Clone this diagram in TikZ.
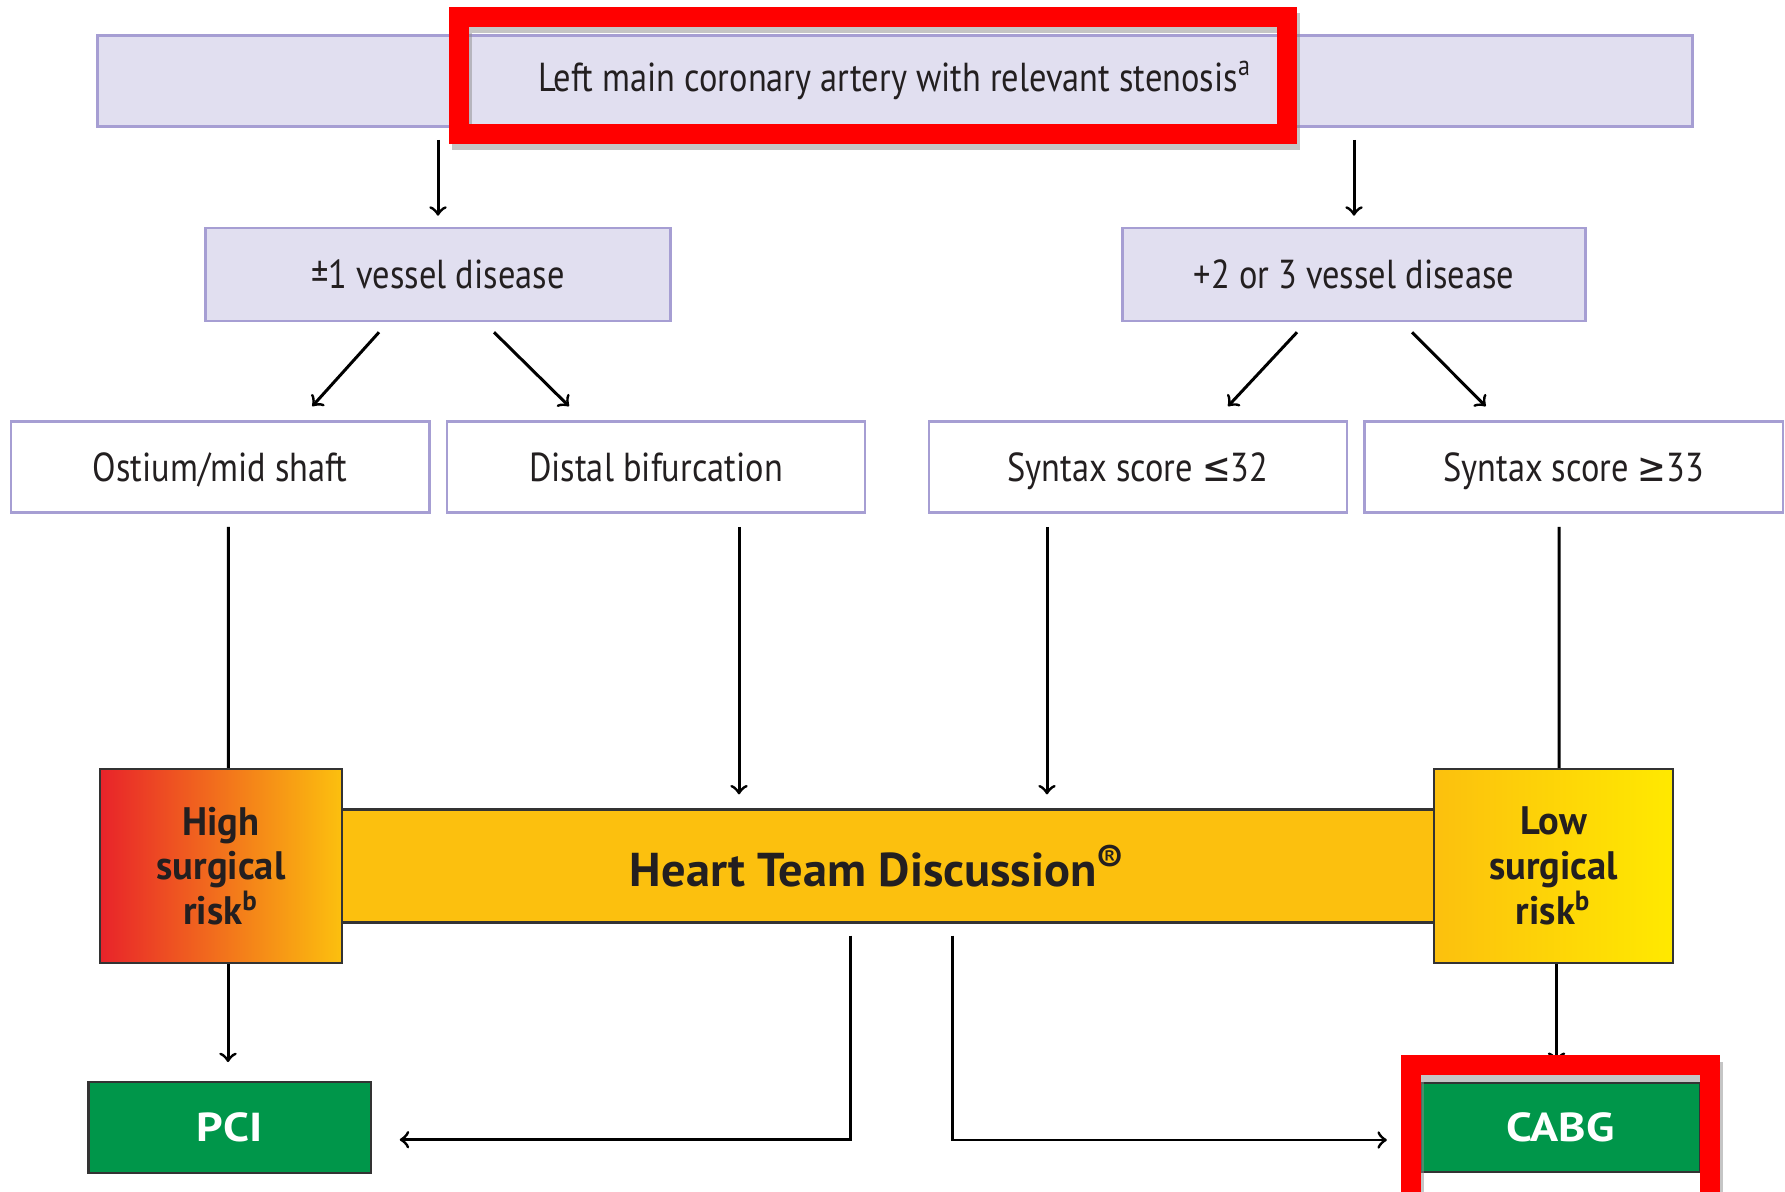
\documentclass[tikz,border=0pt]{standalone}
\usepackage{fontspec}
\setmainfont{PT Sans}[FakeStretch=0.85]
\newfontfamily\symfont{DejaVu Sans}[FakeStretch=0.85]
\newfontfamily\teamfont{PT Sans}[FakeStretch=1.02]
\newfontfamily\riskfont{PT Sans}[FakeStretch=0.97]
\newfontfamily\treatfont{PT Sans}[FakeStretch=1.15]
\usetikzlibrary{positioning, arrows}
\usetikzlibrary{calc}

\definecolor{boxlilac}{HTML}{E1DFF0}
\definecolor{lilacline}{HTML}{A69ED3}
\definecolor{teamamber}{HTML}{FCC00E}
\definecolor{riskred}{HTML}{E8232A}
\definecolor{riskorange}{HTML}{F28A25}
\definecolor{riskyellow}{HTML}{FFE900}
\definecolor{treatgreen}{HTML}{00964A}
\definecolor{inkdark}{HTML}{231F20}
\definecolor{markred}{HTML}{FF0000}

\begin{document}
\begin{tikzpicture}[x=0.01cm, y=-0.01cm, >=to, line width=0.85pt,
    lilac/.style={draw=lilacline, fill=boxlilac, line width=0.7pt, inner sep=0pt, text height=8pt, text depth=0pt, text=inkdark, font=\fontsize{11.5}{13}\selectfont},
    plain/.style={lilac, fill=white, minimum width=4.18cm, minimum height=0.91cm},
    risk/.style={draw=black!80, line width=0.6pt, minimum width=2.42cm, minimum height=1.94cm, inner sep=0pt, align=center, text=inkdark, font=\riskfont\bfseries\fontsize{11.3}{12.7}\selectfont},
    treat/.style={draw=black!80, fill=treatgreen, line width=0.6pt, minimum height=0.91cm, inner sep=0pt, text height=8pt, text depth=0pt, text=white, font=\treatfont\bfseries\fontsize{11.5}{13}\selectfont},
    redmark/.style={draw=markred, line width=0.2cm},
    redshadow/.style={draw=black!45, line width=0.2cm, opacity=0.5}]
    \useasboundingbox (0,0) rectangle (1785,1192);

    % Define boxes
    \node[lilac, text depth=2.2pt, minimum width=15.94cm, minimum height=0.91cm] (lmca) at (895,81) {Left main coronary artery with relevant stenosis\textsuperscript{a}};
    \node[lilac, minimum width=4.65cm, minimum height=0.93cm] (one) at (438,274.5) {±1 vessel disease};
    \node[lilac, minimum width=4.63cm, minimum height=0.93cm] (multi) at (1354,274.5) {+2 or 3 vessel disease};
    \node[plain] (ostium) at (220.3,467) {Ostium/mid shaft};
    \node[plain, right=0.15cm of ostium] (distal) {Distal bifurcation};
    \node[plain] (lowsyn) at (1138,467) {Syntax score {\symfont ≤}32};
    \node[plain, right=0.15cm of lowsyn] (highsyn) {Syntax score {\symfont ≥}33};

    \node[draw=black!80, fill=teamamber, line width=0.6pt, minimum width=10.92cm, minimum height=1.13cm, text=inkdark, font=\teamfont\bfseries\fontsize{13.5}{15}\selectfont] (team) at (888,866) {Heart Team Discussion\raisebox{0.55ex}{\fontsize{11}{11}\selectfont ®}\hspace*{0.22cm}};
    \node[risk, left color=riskred, middle color=riskorange, right color=teamamber] (highrisk) at (221,866) {High\\surgical\\risk\textsuperscript{b}};
    \node[risk, minimum width=2.39cm, left color=teamamber, right color=riskyellow] (lowrisk) at (1553.5,866) {Low\\surgical\\risk\textsuperscript{b}};

    \node[treat, minimum width=2.82cm] (pci) at (229.6,1127.7) {PCI};
    \node[treat, minimum width=2.79cm, minimum height=0.89cm] (cabg) at (1560.5,1127.5) {CABG};

    % Define arrows
    \path[->]
    ([yshift=-0.12cm]lmca.south -| one) edge ([yshift=0.11cm]one.north)
    ([yshift=-0.12cm]lmca.south -| multi) edge ([yshift=0.11cm]multi.north)
    ([shift={(-59,10)}]one.south) edge ([shift={(92,-14)}]ostium.north)
    ([shift={(56,10)}]one.south) edge ([shift={(-87,-14)}]distal.north)
    ([shift={(-57,10)}]multi.south) edge ([shift={(90,-14)}]lowsyn.north)
    ([shift={(58,10)}]multi.south) edge ([shift={(-88,-14)}]highsyn.north);

    \draw ([shift={(8,13)}]ostium.south) -- ([xshift=0.08cm]ostium.south |- highrisk.north);
    \draw[->] ([shift={(83,13)}]distal.south) -- ([shift={(83,-14)}]distal.south |- team.north);
    \draw[->] ([shift={(-91,13)}]lowsyn.south) -- ([shift={(-91,-14)}]lowsyn.south |- team.north);
    \draw ([shift={(-14.5,13)}]highsyn.south) -- ([xshift=-0.145cm]highsyn.south |- lowrisk.north);

    \draw[->] ([xshift=0.07cm]highrisk.south) -- ([xshift=0.07cm,yshift=0.19cm]highrisk.south |- pci.north);
    \draw[->] ([shift={(-38,12)}]team.south) |- ([shift={(28,12)}]pci.east);
    \draw[->] ([shift={(64,12)}]team.south) |- ([shift={(-33,12.5)}]cabg.west);
    \draw[->] ([xshift=0.03cm]lowrisk.south) -- ([xshift=0.03cm,yshift=0.2cm]lowrisk.south |- cabg.north);

    % Highlights
    \draw[redshadow] (462,23) rectangle (1290,140);
    \draw[redmark] (459,17) rectangle (1287,134);
    \draw[redshadow] (1414,1210) -- (1414,1072) -- (1713,1072) -- (1713,1210);
    \draw[redmark] (1411,1202) -- (1411,1065) -- (1710,1065) -- (1710,1202);
\end{tikzpicture}
\end{document}
